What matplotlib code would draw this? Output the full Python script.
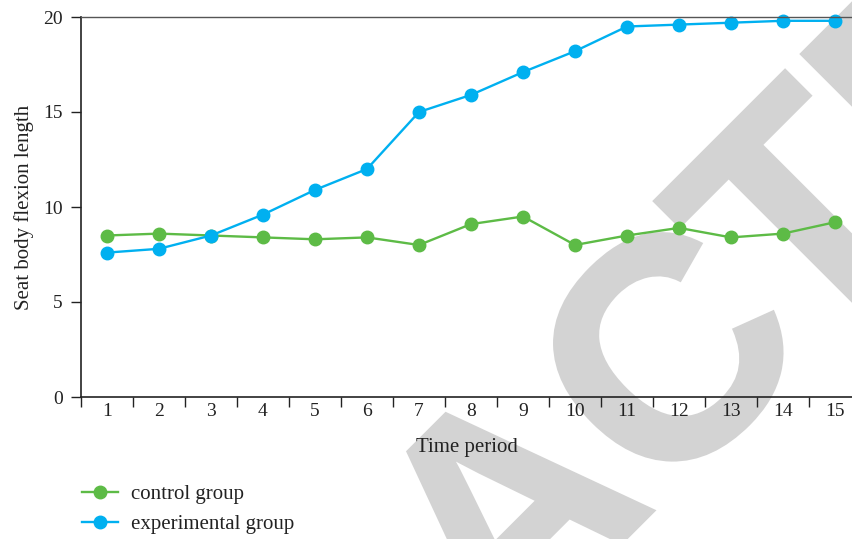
import matplotlib
matplotlib.use("Agg")
import matplotlib.pyplot as plt
from matplotlib.textpath import TextPath
from matplotlib.font_manager import FontProperties
from matplotlib.patches import PathPatch
from matplotlib.transforms import Affine2D, IdentityTransform

periods = list(range(1, 16))
control = [8.5, 8.6, 8.5, 8.4, 8.3, 8.4, 8.0, 9.1, 9.5, 8.0, 8.5, 8.9, 8.4, 8.6, 9.2]
experimental = [7.6, 7.8, 8.5, 9.6, 10.9, 12.0, 15.0, 15.9, 17.1, 18.2, 19.5, 19.6, 19.7, 19.8, 19.8]
yticks = [0, 5, 10, 15, 20]

plt.rcParams['font.family'] = ['Liberation Serif', 'DejaVu Serif']

W, H = 852, 539
fig = plt.figure(figsize=(W / 100, H / 100), dpi=100)
ax = fig.add_axes([81 / W, 1 - 397 / H, 1 - 81 / W, (397 - 17) / H])

# "RETRACTED" watermark (only the visible letters), drawn beneath the axes
fp = FontProperties(family='Liberation Sans', weight='bold')
em = 312
wm_letters = ['A', 'C', 'T', 'E']
wm_centers = [(503, 509), (666, 350), (796, 212), (940, 68)]
for ch, (cx, cy) in zip(wm_letters, wm_centers):
    tp = TextPath((0, 0), ch, size=em, prop=fp)
    ext = tp.get_extents()
    mx, my = (ext.x0 + ext.x1) / 2, (ext.y0 + ext.y1) / 2
    tr = Affine2D().translate(-mx, -my).rotate_deg(45).translate(cx, H - cy)
    fig.add_artist(PathPatch(tr.transform_path(tp), transform=IdentityTransform(),
                             fc='#d3d3d3', ec='#d3d3d3', lw=3.0, joinstyle='miter', zorder=0))
ax.set_zorder(1)
ax.patch.set_alpha(0)

green = '#5dbb46'
blue = '#00b0f0'
ax.plot(periods, control, color=green, lw=1.7, marker='o', ms=9, label='control group', clip_on=False)
ax.plot(periods, experimental, color=blue, lw=1.7, marker='o', ms=9, label='experimental group', clip_on=False)

ax.set_xlim(0.5, 15.327)
ax.set_ylim(0, 20)
ax.set_yticks(yticks)
ax.set_xticks(periods)
ax.set_xticks([p + 0.5 for p in range(0, 15)], minor=True)
ax.tick_params(axis='x', which='major', length=0, pad=4, labelsize=14, labelcolor='#222222')
ax.tick_params(axis='x', which='minor', length=7, width=1, color='#222222')
ax.tick_params(axis='y', length=7, width=1, labelsize=14, color='#222222', pad=6, labelcolor='#222222')
ax.spines['right'].set_visible(False)
for s in ['left', 'bottom']:
    ax.spines[s].set_color('#222222')
    ax.spines[s].set_linewidth(1.2)
ax.spines['top'].set_color('#555555')
ax.spines['top'].set_linewidth(1.0)

ax.set_xlabel('Time period', fontsize=15, labelpad=13, color='#222222')
ax.set_ylabel('Seat body flexion length', fontsize=15, labelpad=7, color='#222222')

leg = fig.legend(loc='upper left', bbox_to_anchor=(63 / W, 1 - 466 / H), frameon=False,
                 fontsize=15, handlelength=1.75, labelspacing=0.5, handletextpad=0.6)
for t in leg.get_texts():
    t.set_color('#222222')

fig.savefig('out.png', dpi=100)
